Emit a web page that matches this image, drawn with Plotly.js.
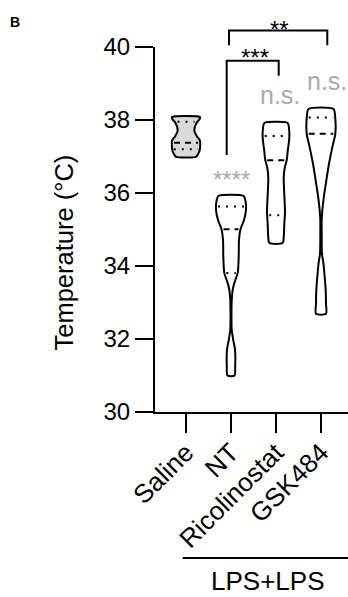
<!DOCTYPE html>
<html>
<head>
<meta charset="utf-8">
<script src="https://cdn.plot.ly/plotly-3.0.1.min.js"></script>
<style>html,body{margin:0;padding:0;background:#fff;}#chart{width:348px;height:597px;}</style>
</head>
<body>
<div id="chart"></div>
<script>
// ---- data ----
var categories = ['Saline', 'NT', 'Ricolinostat', 'GSK484'];
var yTickVals = [30, 32, 34, 36, 38, 40];
var groupLabel = 'LPS+LPS';
var yTitle = 'Temperature (°C)';

// violin outlines: temperature levels (top -> bottom) and half-width of the density (px at 45 px / category)
var salineT  = [38.08, 38.02, 37.92, 37.72, 37.55, 37.45, 37.30, 37.15, 37.04, 36.99];
var salineW  = [14.2, 13.5, 10.5, 8.3, 11.0, 13.8, 14.2, 13.5, 11.5, 10.0];
var ntT      = [35.92, 35.81, 35.54, 35.26, 35.01, 34.72, 34.26, 33.81, 33.53, 33.35, 33.10, 32.80, 32.50, 32.26, 31.98, 31.71, 31.25, 31.00];
var ntW      = [12.5, 14.3, 15.0, 13.0, 9.5, 8.0, 7.7, 6.7, 3.3, 1.7, 0.8, 0.5, 0.5, 0.7, 2.2, 4.0, 4.2, 3.5];
var ricoT    = [37.92, 37.78, 37.51, 37.14, 36.91, 36.69, 36.41, 35.96, 35.50, 35.14, 34.77, 34.63];
var ricoW    = [11.7, 13.0, 13.3, 11.7, 10.8, 8.7, 7.7, 8.3, 9.0, 8.3, 7.7, 6.7];
var gskT     = [38.30, 38.07, 37.62, 37.25, 36.80, 36.34, 35.89, 35.52, 35.25, 34.79, 34.33, 34.06, 33.70, 33.33, 32.96, 32.69];
var gskW     = [12.5, 14.2, 14.3, 11.3, 8.0, 5.3, 2.8, 1.3, 0.7, 0.7, 1.0, 2.5, 3.7, 4.7, 5.0, 5.0];

// quartiles [Q1, median, Q3] and the violin half-width at each
var quartiles  = [[37.20, 37.38, 37.95], [33.81, 35.01, 35.63], [35.39, 36.90, 37.56], [34.60, 37.62, 38.07]];
var quartileW  = [[14.2, 14.0, 10.5], [6.7, 9.5, 15.0], [8.8, 10.8, 13.3], [0.7, 14.3, 14.2]];

// significance labels
var vsSaline   = ['', '****', 'n.s.', 'n.s.'];
var vsNTLabels = ['***', '**'];

// ---- drawing ----
var outlinesT = [salineT, ntT, ricoT, gskT];
var outlinesW = [salineW, ntW, ricoW, gskW];
var fills = ['#d9d9d9', '#ffffff', '#ffffff', '#ffffff'];
var PX = 45; // pixels per category unit
var xRange = [-0.689, 3.6];
var yRange = [30, 40];
function yp(t) { return (t - yRange[0]) / (yRange[1] - yRange[0]); }

var traces = [];
outlinesT.forEach(function (T, i) {
  var W = outlinesW[i];
  var xs = [], ys = [];
  for (var k = 0; k < T.length; k++) { xs.push(i + W[k] / PX); ys.push(T[k]); }
  for (var k2 = T.length - 1; k2 >= 0; k2--) { xs.push(i - W[k2] / PX); ys.push(T[k2]); }
  xs.push(xs[0]); ys.push(ys[0]);
  traces.push({
    type: 'scatter', mode: 'lines', x: xs, y: ys, fill: 'toself', fillcolor: fills[i],
    line: {color: '#000', width: 2, shape: 'spline', smoothing: 0.7}, hoverinfo: 'skip', showlegend: false
  });
  quartiles[i].forEach(function (q, j) {
    var w = quartileW[i][j] - 2;
    if (w <= 0.5) return;
    traces.push({
      type: 'scatter', mode: 'lines', x: [i - w / PX, i + w / PX], y: [q, q],
      line: {color: '#000', width: 2, dash: j === 1 ? '6px,5px' : '2px,6px'},
      hoverinfo: 'skip', showlegend: false
    });
  });
});

var shapes = [
  // NT vs GSK484 bracket
  {type: 'path', xref: 'x', yref: 'paper',
   path: 'M 0.956,' + yp(40.05) + ' L 0.956,' + yp(40.45) + ' L 3.14,' + yp(40.45) + ' L 3.14,' + yp(40.05),
   line: {color: '#000', width: 2}},
  // NT vs Ricolinostat bracket
  {type: 'path', xref: 'x', yref: 'paper',
   path: 'M 0.904,' + yp(37.04) + ' L 0.904,' + yp(39.62) + ' L 2.06,' + yp(39.62) + ' L 2.06,' + yp(39.21),
   line: {color: '#000', width: 2}},
  // group underline
  {type: 'line', xref: 'x', yref: 'paper', x0: -0.073, x1: 3.6, y0: yp(26.0), y1: yp(26.0),
   line: {color: '#000', width: 2}}
];

var gray = '#a9a9a9';
var font = 'Liberation Sans, Arial, sans-serif';
var annotations = [
  {x: 1, y: yp(36.36), text: vsSaline[1], font: {size: 24, color: gray, family: font}},
  {x: 2.08, y: yp(38.69), text: vsSaline[2], font: {size: 25, color: gray, family: font}},
  {x: 3.13, y: yp(39.07), text: vsSaline[3], font: {size: 25, color: gray, family: font}},
  {x: 1.53, y: yp(39.70), text: vsNTLabels[0], font: {size: 24, color: '#000', family: font}},
  {x: 2.07, y: yp(40.49), text: vsNTLabels[1], font: {size: 24, color: '#000', family: font}},
  {x: 1.8, y: yp(25.38), text: groupLabel, font: {size: 26, color: '#000', family: font}},
  {x: (15 - 155) / 193, y: yp(40.68), xref: 'paper', text: '<b>B</b>', font: {size: 14, color: '#000', family: font}},
  {x: (64 - 155) / 193, y: 0.437, xref: 'paper', text: yTitle, textangle: -90, font: {size: 25.5, color: '#000', family: font}}
].map(function (a) {
  return Object.assign({xref: 'x', yref: 'paper', showarrow: false, xanchor: 'center', yanchor: 'middle'}, a);
});

var layout = {
  width: 348, height: 597,
  margin: {l: 155, r: 0, t: 47, b: 185, pad: 0},
  paper_bgcolor: '#fff', plot_bgcolor: '#fff',
  font: {family: font, color: '#000'},
  showlegend: false,
  xaxis: {
    range: xRange, tickmode: 'array', tickvals: [0, 1, 2, 3], ticktext: categories,
    tickangle: -45, ticks: 'outside', ticklen: 19, tickwidth: 2, tickcolor: '#000',
    showline: true, linewidth: 2, linecolor: '#000', showgrid: false, zeroline: false,
    tickfont: {size: 26, family: font, color: '#000'}, ticklabelstandoff: -6, fixedrange: true
  },
  yaxis: {
    range: yRange, tickmode: 'array', tickvals: yTickVals,
    ticks: 'outside', ticklen: 18, tickwidth: 2, tickcolor: '#000',
    showline: true, linewidth: 2, linecolor: '#000', showgrid: false, zeroline: false,
    tickfont: {size: 24, family: font, color: '#000'},
    fixedrange: true
  },
  shapes: shapes,
  annotations: annotations
};

Plotly.newPlot('chart', traces, layout, {displayModeBar: false, staticPlot: true});
</script>
</body>
</html>
